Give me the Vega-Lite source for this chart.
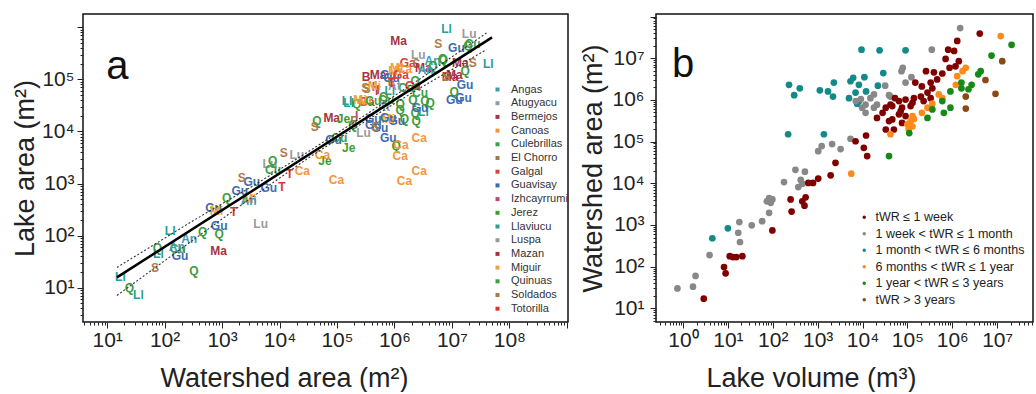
{
 "$schema": "https://vega.github.io/schema/vega-lite/v6.json",
 "padding": {"left": 10, "top": 13, "right": 0, "bottom": 0},
 "background": "white",
 "config": {
  "font": "Liberation Sans",
  "view": {"stroke": "#111", "strokeWidth": 1.5},
  "axis": {"domain": false, "grid": false, "labelFontSize": 21, "labelColor": "#222", "titleFontSize": 27, "titleFontWeight": "normal", "titleColor": "#222", "tickColor": "#222", "labelOverlap": false, "labelBound": false, "labelFlush": false}
 },
 "resolve": {"scale": {"color": "independent"}, "legend": {"color": "independent"}},
 "spacing": 9,
 "hconcat": [
  {
   "width": 485, "height": 308,
   "layer": [
    {
     "data": {"values": [
      {"ab":"Ll","ws":17,"la":16},{"ab":"Q","ws":24.5,"la":10},{"ab":"Ll","ws":35,"la":7.4},{"ab":"S","ws":68,"la":24},{"ab":"Q","ws":324,"la":21},{"ab":"Gu","ws":186,"la":41},{"ab":"Ll","ws":78,"la":44},{"ab":"Q","ws":75,"la":59},{"ab":"Ll","ws":125,"la":123},{"ab":"An","ws":268,"la":86},{"ab":"Cu","ws":170,"la":55},{"ab":"An","ws":163,"la":61},{"ab":"Q","ws":460,"la":115},{"ab":"Q","ws":890,"la":107},{"ab":"Ma","ws":870,"la":51},{"ab":"Gu","ws":890,"la":154},{"ab":"Gu","ws":710,"la":345},{"ab":"Mi","ws":810,"la":300},{"ab":"T","ws":1600,"la":290},{"ab":"Q","ws":1200,"la":520},{"ab":"Gu","ws":2040,"la":720},{"ab":"Gu","ws":3300,"la":1050},{"ab":"S","ws":2200,"la":1290},{"ab":"Mi","ws":3100,"la":500},{"ab":"An","ws":2900,"la":470},{"ab":"Gu","ws":6500,"la":830},{"ab":"T","ws":11000,"la":860},{"ab":"Lu","ws":4700,"la":170},{"ab":"Lu","ws":6800,"la":2400},{"ab":"Q","ws":7600,"la":2700},{"ab":"S","ws":11800,"la":3900},{"ab":"Cu","ws":7700,"la":1860},{"ab":"T","ws":15000,"la":1500},{"ab":"Lu","ws":20000,"la":3600},{"ab":"Ca","ws":25000,"la":1740},{"ab":"Ca","ws":98000,"la":1180},{"ab":"Je","ws":62000,"la":2700},{"ab":"Ca","ws":56000,"la":3600},{"ab":"Gu","ws":87000,"la":6800},{"ab":"Je","ws":160000,"la":4900},{"ab":"Cu","ws":110000,"la":7600},{"ab":"Gu","ws":780000,"la":7400},{"ab":"Q","ws":1070000,"la":5300},{"ab":"Ca","ws":1300000,"la":5600},{"ab":"Ca","ws":2700000,"la":7600},{"ab":"Ca","ws":1260000,"la":3400},{"ab":"Ca","ws":2700000,"la":1740},{"ab":"Ca","ws":1500000,"la":1120},{"ab":"Ma","ws":81000,"la":18000},{"ab":"Q","ws":45000,"la":15800},{"ab":"S","ws":41000,"la":12000},{"ab":"Je","ws":130000,"la":17000},{"ab":"Ll","ws":160000,"la":35000},{"ab":"Ma","ws":1180000,"la":540000},{"ab":"Ll","ws":8100000,"la":910000},{"ab":"Lu","ws":20000000,"la":760000},{"ab":"S","ws":5800000,"la":480000},{"ab":"Gu","ws":12000000,"la":400000},{"ab":"Cu","ws":23000000,"la":480000},{"ab":"Q","ws":19000000,"la":440000},{"ab":"Ll","ws":43000000,"la":195000},{"ab":"S","ws":23000000,"la":210000},{"ab":"Ma","ws":14000000,"la":210000},{"ab":"Q","ws":17000000,"la":145000},{"ab":"Gu","ws":17000000,"la":79000},{"ab":"Gu","ws":16000000,"la":44000},{"ab":"Q","ws":11000000,"la":58000},{"ab":"Gu","ws":11000000,"la":40000},{"ab":"Ma","ws":9300000,"la":110000},{"ab":"Q","ws":7100000,"la":240000},{"ab":"Ma","ws":11000000,"la":123000},{"ab":"S","ws":8000000,"la":110000},{"ab":"Lu","ws":2600000,"la":300000},{"ab":"An","ws":4600000,"la":230000},{"ab":"Q","ws":6900000,"la":250000},{"ab":"Ga","ws":1700000,"la":210000},{"ab":"S","ws":2400000,"la":200000},{"ab":"Ma","ws":3200000,"la":167000},{"ab":"Q","ws":4700000,"la":180000},{"ab":"B","ws":320000,"la":110000},{"ab":"Ma","ws":520000,"la":120000},{"ab":"Gu","ws":780000,"la":120000},{"ab":"Mi","ws":1100000,"la":166000},{"ab":"S","ws":310000,"la":69000},{"ab":"I","ws":520000,"la":62000},{"ab":"Ll","ws":830000,"la":59000},{"ab":"Cu","ws":1600000,"la":69000},{"ab":"Q","ws":2300000,"la":93000},{"ab":"Q","ws":2100000,"la":41000},{"ab":"Q","ws":3400000,"la":38000},{"ab":"Ll","ws":3200000,"la":24000},{"ab":"Q","ws":1260000,"la":33000},{"ab":"Cu","ws":720000,"la":41000},{"ab":"Q","ws":2400000,"la":15800},{"ab":"Q","ws":1500000,"la":17000},{"ab":"Gu","ws":430000,"la":17000},{"ab":"Ll","ws":150000,"la":38000},{"ab":"Q","ws":220000,"la":33000},{"ab":"Mi","ws":250000,"la":41000},{"ab":"Ga","ws":330000,"la":36000},{"ab":"Q","ws":190000,"la":13500},{"ab":"I","ws":220000,"la":20000},{"ab":"Gu","ws":430000,"la":13500},{"ab":"Lu","ws":290000,"la":9400},{"ab":"Gu","ws":560000,"la":11700},{"ab":"Gu","ws":1100000,"la":15800},{"ab":"Mi","ws":780000,"la":17000},{"ab":"Gu","ws":890000,"la":107000},{"ab":"Mi","ws":1020000,"la":145000},{"ab":"S","ws":330000,"la":65000},{"ab":"T","ws":490000,"la":59000},{"ab":"Mi","ws":310000,"la":38000},{"ab":"Q","ws":650000,"la":45000},{"ab":"Cu","ws":430000,"la":38000},{"ab":"Q","ws":1260000,"la":26000},{"ab":"Gu","ws":780000,"la":18000},{"ab":"S","ws":460000,"la":12000},{"ab":"Q","ws":2300000,"la":23000},{"ab":"Gu","ws":2800000,"la":28000},{"ab":"Ga","ws":2100000,"la":74000},{"ab":"Q","ws":4200000,"la":35000},{"ab":"E","ws":200000,"la":16000},{"ab":"At","ws":1000000,"la":74000},{"ab":"At","ws":650000,"la":30000},{"ab":"I","ws":430000,"la":70000},{"ab":"E","ws":900000,"la":90000},{"ab":"Ga","ws":1300000,"la":120000},{"ab":"T","ws":900000,"la":85000},{"ab":"Ca","ws":1500000,"la":160000},{"ab":"Mi","ws":450000,"la":75000},{"ab":"An","ws":3500000,"la":150000},{"ab":"Cu","ws":2800000,"la":55000}
     ]},
     "mark": {"type": "text", "fontSize": 12, "fontWeight": "bold"},
     "encoding": {
      "x": {"field": "ws", "type": "quantitative", "scale": {"type": "log", "domain": [3.8, 1.05e9], "nice": false},
       "axis": {"title": "Watershed area (m²)", "labelPadding": 1, "titlePadding": 15, "titleX": 201,
        "values": [4,5,6,7,8,9,10,20,30,40,50,60,70,80,90,100,200,300,400,500,600,700,800,900,1000,2000,3000,4000,5000,6000,7000,8000,9000,1e4,2e4,3e4,4e4,5e4,6e4,7e4,8e4,9e4,1e5,2e5,3e5,4e5,5e5,6e5,7e5,8e5,9e5,1e6,2e6,3e6,4e6,5e6,6e6,7e6,8e6,9e6,1e7,2e7,3e7,4e7,5e7,6e7,7e7,8e7,9e7,1e8,2e8,3e8,4e8,5e8,6e8,7e8,8e8,9e8,1e9],
        "labelExpr": "abs(log(datum.value)/LN10-round(log(datum.value)/LN10))<0.001 && datum.value < 5e8 ? '10'+['⁰','¹','²','³','⁴','⁵','⁶','⁷','⁸','⁹'][round(log(datum.value)/LN10)] : ''",
        "labelFontSize": {"condition": {"test": "abs(log(datum.value)/LN10-round(log(datum.value)/LN10))<0.001 && datum.value < 5e8", "value": 21}, "value": 1},
        "tickSize": {"condition": {"test": "abs(log(datum.value)/LN10-round(log(datum.value)/LN10))<0.001", "value": 6}, "value": 3}}},
      "y": {"field": "la", "type": "quantitative", "scale": {"type": "log", "domain": [2.2, 1.8e6], "nice": false},
       "axis": {"title": "Lake area (m²)", "labelPadding": 3, "titlePadding": 2,
        "values": [3,4,5,6,7,8,9,10,20,30,40,50,60,70,80,90,100,200,300,400,500,600,700,800,900,1000,2000,3000,4000,5000,6000,7000,8000,9000,1e4,2e4,3e4,4e4,5e4,6e4,7e4,8e4,9e4,1e5,2e5,3e5,4e5,5e5,6e5,7e5,8e5,9e5,1e6],
        "labelExpr": "abs(log(datum.value)/LN10-round(log(datum.value)/LN10))<0.001 && datum.value < 5e5 ? '10'+['⁰','¹','²','³','⁴','⁵','⁶','⁷','⁸','⁹'][round(log(datum.value)/LN10)] : ''",
        "labelFontSize": {"condition": {"test": "abs(log(datum.value)/LN10-round(log(datum.value)/LN10))<0.001 && datum.value < 5e5", "value": 21}, "value": 1},
        "tickSize": {"condition": {"test": "abs(log(datum.value)/LN10-round(log(datum.value)/LN10))<0.001", "value": 6}, "value": 3}}},
      "text": {"field": "ab"},
      "color": {"field": "ab", "type": "nominal",
       "scale": {"domain": ["An","At","B","Ca","Cu","E","Ga","Gu","I","Je","Ll","Lu","Ma","Mi","Q","S","T"],
        "range": ["#3a9fb5","#8e9bb0","#b03045","#f5963a","#3aa048","#a07a45","#d9403a","#3b6cb0","#c0457f","#3c9e2e","#2a9e95","#9a9a9a","#a8323e","#f0a23a","#3d9c3d","#b07a45","#e0352f"]},
       "legend": {"title": null, "orient": "none", "legendX": 409, "legendY": 70, "padding": 0, "labelFontSize": 11, "labelColor": "#333", "labelOffset": 8, "symbolType": "square", "symbolSize": 16, "rowPadding": 1.7,
        "labelExpr": "['Angas','Atugyacu','Bermejos','Canoas','Culebrillas','El Chorro','Galgal','Guavisay','Izhcayrrumi','Jerez','Llaviucu','Luspa','Mazan','Miguir','Quinuas','Soldados','Totorilla'][indexof(['An','At','B','Ca','Cu','E','Ga','Gu','I','Je','Ll','Lu','Ma','Mi','Q','S','T'], datum.value)]"}}
     }
    },
    {
     "data": {"values": [
      {"band":"upper","ws":14.8,"la":24.5},{"band":"upper","ws":316,"la":195},{"band":"upper","ws":3160,"la":851},{"band":"upper","ws":31600,"la":4074},{"band":"upper","ws":316000,"la":20900},{"band":"upper","ws":3160000,"la":112000},{"band":"upper","ws":40000000,"la":776000},
      {"band":"lower","ws":14.8,"la":7.1},{"band":"lower","ws":316,"la":83},{"band":"lower","ws":3160,"la":525},{"band":"lower","ws":31600,"la":3090},{"band":"lower","ws":316000,"la":15800},{"band":"lower","ws":3160000,"la":74100},{"band":"lower","ws":40000000,"la":371500}
     ]},
     "mark": {"type": "line", "color": "#333", "strokeWidth": 1.1, "strokeDash": [2, 2]},
     "encoding": {"x": {"field": "ws", "type": "quantitative"}, "y": {"field": "la", "type": "quantitative"}, "detail": {"field": "band"}}
    },
    {
     "data": {"values": [{"ws": 14.8, "la": 15.8}, {"ws": 5e7, "la": 640000}]},
     "mark": {"type": "line", "color": "#000", "strokeWidth": 2.5},
     "encoding": {"x": {"field": "ws", "type": "quantitative"}, "y": {"field": "la", "type": "quantitative"}}
    },
    {
     "data": {"values": [{}]},
     "mark": {"type": "text", "fontSize": 40, "color": "#111", "baseline": "middle", "align": "center"},
     "encoding": {"x": {"datum": 15, "type": "quantitative"}, "y": {"datum": 170000, "type": "quantitative"}, "text": {"value": "a"}}
    }
   ]
  },
  {
   "width": 377, "height": 308,
   "layer": [
    {
     "data": {"values": [
      {"v":9500,"w":1.6e7,"k":3},{"v":24000,"w":1.55e7,"k":3},{"v":91000,"w":1.55e7,"k":3},{"v":230,"w":2.3e6,"k":3},{"v":400,"w":1.9e6,"k":3},{"v":300,"w":1.3e6,"k":3},{"v":1120,"w":1.7e6,"k":3},{"v":1700,"w":1.6e6,"k":3},{"v":2200,"w":1.2e6,"k":3},{"v":2300,"w":2.6e6,"k":3},{"v":5400,"w":2.8e6,"k":3},{"v":6200,"w":3.4e6,"k":3},{"v":11000,"w":3.5e6,"k":3},{"v":8300,"w":2.3e6,"k":3},{"v":7000,"w":1.5e6,"k":3},{"v":5000,"w":1.1e6,"k":3},{"v":7600,"w":8.1e5,"k":3},{"v":29000,"w":4.4e6,"k":3},{"v":22000,"w":2.2e6,"k":3},{"v":220,"w":1.5e5,"k":3},{"v":1380,"w":1.5e5,"k":3},{"v":4.5,"w":480,"k":3},{"v":10,"w":830,"k":3},{"v":12000,"w":1.6e6,"k":3},{"v":8300,"w":9.3e5,"k":3},
      {"v":0.75,"w":30,"k":2},{"v":1.67,"w":33,"k":2},{"v":1.9,"w":60,"k":2},{"v":3.9,"w":190,"k":2},{"v":17,"w":650,"k":2},{"v":18.6,"w":390,"k":2},{"v":18,"w":1170,"k":2},{"v":34,"w":980,"k":2},{"v":58,"w":1230,"k":2},{"v":83,"w":1950,"k":2},{"v":83,"w":4400,"k":2},{"v":98,"w":4100,"k":2},{"v":90,"w":3400,"k":2},{"v":74,"w":3700,"k":2},{"v":178,"w":10700,"k":2},{"v":320,"w":21000,"k":2},{"v":520,"w":19000,"k":2},{"v":420,"w":12000,"k":2},{"v":455,"w":9800,"k":2},{"v":370,"w":8100,"k":2},{"v":1230,"w":78000,"k":2},{"v":1030,"w":59000,"k":2},{"v":2100,"w":87000,"k":2},{"v":3250,"w":66000,"k":2},{"v":5400,"w":117000,"k":2},{"v":79000,"w":5.9e6,"k":2},{"v":74000,"w":4.9e6,"k":2},{"v":123000,"w":3.5e6,"k":2},{"v":91000,"w":2.6e6,"k":2},{"v":32000,"w":2.2e6,"k":2},{"v":18000,"w":1.35e6,"k":2},{"v":15000,"w":1.1e6,"k":2},{"v":11700,"w":7.7e5,"k":2},{"v":9800,"w":6.5e5,"k":2},{"v":21000,"w":7.7e5,"k":2},{"v":39000,"w":1.3e6,"k":2},{"v":11700,"w":4.9e5,"k":2},{"v":18000,"w":6.5e5,"k":2},{"v":1.5e6,"w":5.3e7,"k":2},{"v":3.5e5,"w":1.6e7,"k":2},{"v":42000,"w":1.2e6,"k":2},{"v":7100,"w":9.4e5,"k":2},{"v":9200,"w":1.05e6,"k":2},
      {"v":2.9,"w":17,"k":1},{"v":8.2,"w":98,"k":1},{"v":8.9,"w":69,"k":1},{"v":11,"w":178,"k":1},{"v":15.4,"w":170,"k":1},{"v":21,"w":178,"k":1},{"v":13,"w":170,"k":1},{"v":98,"w":740,"k":1},{"v":250,"w":4100,"k":1},{"v":263,"w":2100,"k":1},{"v":540,"w":4600,"k":1},{"v":455,"w":3700,"k":1},{"v":510,"w":2900,"k":1},{"v":620,"w":10200,"k":1},{"v":790,"w":10200,"k":1},{"v":1030,"w":13000,"k":1},{"v":1950,"w":15500,"k":1},{"v":2500,"w":31000,"k":1},{"v":12000,"w":1.4e5,"k":1},{"v":10700,"w":71000,"k":1},{"v":12700,"w":45000,"k":1},{"v":7000,"w":1.02e5,"k":1},{"v":53000,"w":1.1e6,"k":1},{"v":42000,"w":7.7e5,"k":1},{"v":33000,"w":6.5e5,"k":1},{"v":28000,"w":4.9e5,"k":1},{"v":21000,"w":3.7e5,"k":1},{"v":71000,"w":5.4e5,"k":1},{"v":91000,"w":1.02e6,"k":1},{"v":4.1e6,"w":3.9e7,"k":1},{"v":1.29e6,"w":2.6e7,"k":1},{"v":8.1e5,"w":1.6e7,"k":1},{"v":1.1e6,"w":1.5e7,"k":1},{"v":7.1e5,"w":9.6e6,"k":1},{"v":1.4e6,"w":8.5e6,"k":1},{"v":8.7e5,"w":5.9e6,"k":1},{"v":1.18e6,"w":6.4e6,"k":1},{"v":2.6e5,"w":4.9e6,"k":1},{"v":3.9e5,"w":4.6e6,"k":1},{"v":6e5,"w":4.3e6,"k":1},{"v":4.6e5,"w":3.1e6,"k":1},{"v":3.3e5,"w":2.6e6,"k":1},{"v":2.1e5,"w":2.1e6,"k":1},{"v":1.5e5,"w":2.6e6,"k":1},{"v":3.6e5,"w":1.9e6,"k":1},{"v":2.8e5,"w":1.5e6,"k":1},{"v":2e5,"w":1.2e6,"k":1},{"v":1.4e5,"w":1.1e6,"k":1},{"v":65000,"w":9.4e5,"k":1},{"v":2.3e5,"w":9.4e5,"k":1},{"v":3.3e5,"w":1.1e6,"k":1},{"v":46000,"w":7.1e5,"k":1},{"v":76000,"w":6.5e5,"k":1},{"v":1.18e5,"w":7.1e5,"k":1},{"v":65000,"w":4.5e5,"k":1},{"v":91000,"w":4.1e5,"k":1},{"v":46000,"w":3.4e5,"k":1},{"v":76000,"w":2.8e5,"k":1},{"v":50000,"w":1.95e5,"k":1},{"v":33000,"w":1.95e5,"k":1},{"v":39000,"w":3.1e5,"k":1},{"v":1.3e5,"w":8.5e5,"k":1},
      {"v":5600,"w":17000,"k":4},{"v":42000,"w":1.5e5,"k":4},{"v":1.2e7,"w":3.4e7,"k":4},{"v":2e6,"w":5.9e6,"k":4},{"v":1.7e6,"w":4.9e6,"k":4},{"v":1.29e6,"w":3.7e6,"k":4},{"v":1.2e6,"w":2.3e6,"k":4},{"v":5e5,"w":1.35e6,"k":4},{"v":6e5,"w":1.1e6,"k":4},{"v":3.6e5,"w":8.1e5,"k":4},{"v":2.8e5,"w":6.5e5,"k":4},{"v":2.1e5,"w":4.9e5,"k":4},{"v":1.3e5,"w":4.1e5,"k":4},{"v":1.18e5,"w":3.1e5,"k":4},{"v":1e5,"w":2.6e5,"k":4},{"v":1.3e5,"w":2.3e5,"k":4},{"v":1.07e5,"w":2e5,"k":4},{"v":1.4e5,"w":3.5e5,"k":4},
      {"v":2.1e7,"w":2.1e7,"k":5},{"v":7.5e6,"w":1.16e7,"k":5},{"v":4.3e6,"w":4.9e6,"k":5},{"v":3.8e6,"w":4.1e6,"k":5},{"v":2.7e6,"w":2.3e6,"k":5},{"v":1.6e6,"w":2.6e6,"k":5},{"v":1.6e6,"w":1.9e6,"k":5},{"v":2.3e6,"w":1.8e6,"k":5},{"v":9.1e5,"w":1.6e6,"k":5},{"v":6e5,"w":9.4e5,"k":5},{"v":9.1e5,"w":6.5e5,"k":5},{"v":6.5e5,"w":4.9e5,"k":5},{"v":3.6e5,"w":5.9e5,"k":5},{"v":2.8e5,"w":3.7e5,"k":5},{"v":1.1e5,"w":1.6e5,"k":5},{"v":39000,"w":45000,"k":5},
      {"v":1.3e7,"w":8.5e6,"k":6},{"v":5.5e6,"w":3e6,"k":6},{"v":2e6,"w":1.2e6,"k":6},{"v":9.2e6,"w":1.4e6,"k":6},{"v":2e6,"w":6.2e5,"k":6}
     ]},
     "mark": {"type": "circle", "size": 45, "opacity": 1},
     "encoding": {
      "x": {"field": "v", "type": "quantitative", "scale": {"type": "log", "domain": [0.25, 6.3e7], "nice": false},
       "axis": {"title": "Lake volume (m³)", "labelPadding": 1, "titlePadding": 15, "titleX": 155,
        "values": [0.3,0.4,0.5,0.6,0.7,0.8,0.9,1,2,3,4,5,6,7,8,9,10,20,30,40,50,60,70,80,90,100,200,300,400,500,600,700,800,900,1000,2000,3000,4000,5000,6000,7000,8000,9000,1e4,2e4,3e4,4e4,5e4,6e4,7e4,8e4,9e4,1e5,2e5,3e5,4e5,5e5,6e5,7e5,8e5,9e5,1e6,2e6,3e6,4e6,5e6,6e6,7e6,8e6,9e6,1e7,2e7,3e7,4e7,5e7,6e7],
        "labelExpr": "abs(log(datum.value)/LN10-round(log(datum.value)/LN10))<0.001 ? '10'+['⁰','¹','²','³','⁴','⁵','⁶','⁷','⁸','⁹'][round(log(datum.value)/LN10)] : ''",
        "labelFontSize": {"condition": {"test": "abs(log(datum.value)/LN10-round(log(datum.value)/LN10))<0.001", "value": 21}, "value": 1},
        "tickSize": {"condition": {"test": "abs(log(datum.value)/LN10-round(log(datum.value)/LN10))<0.001", "value": 6}, "value": 3}}},
      "y": {"field": "w", "type": "quantitative", "scale": {"type": "log", "domain": [4.7, 1.15e8], "nice": false},
       "axis": {"title": "Watershed area (m²)", "labelPadding": 6, "titlePadding": 4,
        "values": [5,6,7,8,9,10,20,30,40,50,60,70,80,90,100,200,300,400,500,600,700,800,900,1000,2000,3000,4000,5000,6000,7000,8000,9000,1e4,2e4,3e4,4e4,5e4,6e4,7e4,8e4,9e4,1e5,2e5,3e5,4e5,5e5,6e5,7e5,8e5,9e5,1e6,2e6,3e6,4e6,5e6,6e6,7e6,8e6,9e6,1e7,2e7,3e7,4e7,5e7,6e7,7e7,8e7,9e7,1e8],
        "labelExpr": "abs(log(datum.value)/LN10-round(log(datum.value)/LN10))<0.001 && datum.value < 5e7 ? '10'+['⁰','¹','²','³','⁴','⁵','⁶','⁷','⁸','⁹'][round(log(datum.value)/LN10)] : ''",
        "labelFontSize": {"condition": {"test": "abs(log(datum.value)/LN10-round(log(datum.value)/LN10))<0.001 && datum.value < 5e7", "value": 21}, "value": 1},
        "tickSize": {"condition": {"test": "abs(log(datum.value)/LN10-round(log(datum.value)/LN10))<0.001", "value": 6}, "value": 3}}},
      "color": {"field": "k", "type": "nominal",
       "scale": {"domain": [1,2,3,4,5,6], "range": ["#800000","#888888","#138a8a","#ff8a1a","#168a16","#8b4a14"]},
       "legend": {"title": null, "orient": "none", "legendX": 202, "legendY": 197, "padding": 0, "labelFontSize": 12.5, "labelLimit": 300, "labelColor": "#222", "labelOffset": 5, "symbolType": "circle", "symbolSize": 12, "rowPadding": 3.5,
        "labelExpr": "['tWR ≤ 1 week','1 week < tWR ≤ 1 month','1 month < tWR ≤ 6 months','6 months < tWR ≤ 1 year','1 year < tWR ≤ 3 years','tWR > 3 years'][datum.value-1]"}}
     }
    },
    {
     "data": {"values": [{}]},
     "mark": {"type": "text", "fontSize": 40, "color": "#111", "baseline": "middle", "align": "center"},
     "encoding": {"x": {"datum": 1, "type": "quantitative"}, "y": {"datum": 7000000, "type": "quantitative"}, "text": {"value": "b"}}
    }
   ]
  }
 ]
}
